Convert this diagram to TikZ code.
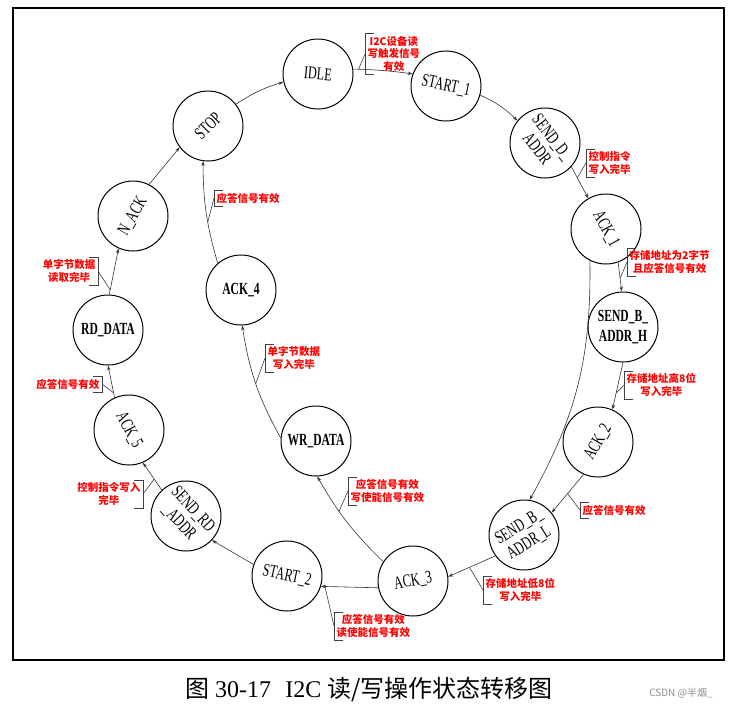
\documentclass[tikz,border=0pt]{standalone}
\usepackage{fontspec}
\setmainfont{Liberation Serif}
\newfontfamily\statefont{Liberation Serif}[FakeStretch=0.68]
\newfontfamily\cjk{Noto Sans CJK SC}
\usetikzlibrary{arrows.meta, calc}

\begin{document}
\begin{tikzpicture}[x=1pt, y=1pt, >={Stealth[length=5pt,width=3.4pt]},
    state/.style={draw, circle, line width=1pt, minimum size=70pt, inner sep=0pt, align=center, font=\statefont\fontsize{18}{20}\selectfont},
    bstate/.style={state, font=\statefont\bfseries\fontsize{17}{20}\selectfont},
    stxt/.style={align=center, inner sep=0pt, font=\statefont\fontsize{18}{19}\selectfont},
    trans/.style={->, draw=black!80, line width=0.6pt},
    note/.style={text=red, align=center, inner sep=2.5pt, font=\cjk\bfseries\fontsize{10.5}{12.5}\selectfont},
    brk/.style={draw=black!75, line width=0.6pt}]

    \useasboundingbox (0,0) rectangle (737,-710);
    \draw[line width=1.3pt] (13,-8) rectangle (724,-660);

    % states
    \node[state, label={[stxt, rotate=-5]center:IDLE}] (idle) at (318,-74) {};
    \node[state, label={[stxt, rotate=-12]center:START\_1}] (start1) at (446,-86) {};
    \node[state, label={[stxt, rotate=-52]center:{SEND\_D\_\\ADDR}}] (senddaddr) at (545,-143) {};
    \node[state, label={[stxt, rotate=-62]center:ACK\_1}] (ack1) at (606,-229) {};
    \node[bstate] (sendbh) at (623,-327) {SEND\_B\_\\ADDR\_H};
    \node[state, label={[stxt, rotate=60]center:ACK\_2}] (ack2) at (598,-442) {};
    \node[state, label={[stxt, rotate=32]center:{SEND\_B\_\\ADDR\_L}}] (sendbl) at (524,-535) {};
    \node[state, label={[stxt, rotate=10]center:ACK\_3}] (ack3) at (413,-581) {};
    \node[state, label={[stxt, rotate=-12]center:START\_2}] (start2) at (287,-576) {};
    \node[state, label={[stxt, rotate=-47]center:{SEND\_RD\\\_ADDR}}] (sendrd) at (186,-516) {};
    \node[state, label={[stxt, rotate=-62]center:ACK\_5}] (ack5) at (129,-430) {};
    \node[bstate] (rddata) at (108,-330) {RD\_DATA};
    \node[state, label={[stxt, rotate=60]center:N\_ACK}] (nack) at (133,-216) {};
    \node[state, label={[stxt, rotate=45]center:STOP}] (stop) at (208,-126) {};
    \node[bstate] (ack4) at (241,-290) {ACK\_4};
    \node[bstate] (wrdata) at (316,-441) {WR\_DATA};

    % transitions
    \draw[trans] (stop.38) to[bend left=8] (idle.193);
    \draw[trans] (idle.8) to[bend left=3] coordinate[pos=0.08] (c1) (start1.160);
    \draw[trans] (start1.-15) to[bend left=10] (senddaddr.141);
    \draw[trans] (senddaddr.-42) -- coordinate[pos=0.35] (c2) (ack1.120);
    \draw[trans] (ack1.-70) -- coordinate[pos=0.55] (c3) (sendbh.92);
    \draw[trans] (ack1.-117) to[bend left=15] (sendbl.81);
    \draw[trans] (sendbh.-90) -- coordinate[pos=0.65] (c4) (ack2.66);
    \draw[trans] (ack2.-114) -- coordinate[pos=0.5] (c5) (sendbl.39);
    \draw[trans] (sendbl.-144) -- coordinate[pos=0.55] (c6) (ack3.7);
    \draw[trans] (ack3.191) -- coordinate[pos=0.93] (c7) (start2.-17);
    \draw[trans] (ack3.147) to[bend left=8] coordinate[pos=0.63] (c8) (wrdata.-88);
    \draw[trans] (wrdata.175) to[bend left=10] coordinate[pos=0.5] (c9) (ack4.-88);
    \draw[trans] (ack4.131) to[bend left=8] coordinate[pos=0.4] (c10) (stop.-98);
    \draw[trans] (start2.161) -- (sendrd.-43);
    \draw[trans] (sendrd.133) -- coordinate[pos=0.4] (c11) (ack5.-67);
    \draw[trans] (ack5.114) -- coordinate[pos=0.15] (c12) (rddata.-90);
    \draw[trans] (rddata.88) -- coordinate[pos=0.1] (c13) (nack.-114);
    \draw[trans] (nack.63) -- (stop.-143);

    % conditions
    \node[note, anchor=west] (n1) at (365,-54) {I2C设备读\\写触发信号\\有效};
    \node[note, anchor=west] (n2) at (586,-163) {控制指令\\写入完毕};
    \node[note, anchor=west] (n3) at (627,-262) {存储地址为2字节\\且应答信号有效};
    \node[note, anchor=west] (n4) at (624,-385) {存储地址高8位\\写入完毕};
    \node[note, anchor=west] (n5) at (580,-510) {应答信号有效};
    \node[note, anchor=west] (n6) at (483,-590) {存储地址低8位\\写入完毕};
    \node[note, anchor=west] (n7) at (334,-626) {应答信号有效\\读使能信号有效};
    \node[note, anchor=west] (n8) at (348,-491) {应答信号有效\\写使能信号有效};
    \node[note, anchor=west] (n9) at (265,-358) {单字节数据\\写入完毕};
    \node[note, anchor=west] (n10) at (214,-198) {应答信号有效};
    \node[note, anchor=east] (n11) at (143,-494) {控制指令写入\\完毕};
    \node[note, anchor=east] (n12) at (102,-384) {应答信号有效};
    \node[note, anchor=east] (n13) at (98,-271) {单字节数据\\读取完毕};

    \draw[brk] ($(n1.north west)+(9,0)$) -- (n1.north west) -- (n1.south west) -- ($(n1.south west)+(9,0)$);
    \draw[brk] ($(n2.north west)+(9,0)$) -- (n2.north west) -- (n2.south west) -- ($(n2.south west)+(9,0)$);
    \draw[brk] ($(n3.north west)+(9,0)$) -- (n3.north west) -- (n3.south west) -- ($(n3.south west)+(9,0)$);
    \draw[brk] ($(n4.north west)+(9,0)$) -- (n4.north west) -- (n4.south west) -- ($(n4.south west)+(9,0)$);
    \draw[brk] ($(n5.north west)+(9,0)$) -- (n5.north west) -- (n5.south west) -- ($(n5.south west)+(9,0)$);
    \draw[brk] ($(n6.north west)+(9,0)$) -- (n6.north west) -- (n6.south west) -- ($(n6.south west)+(9,0)$);
    \draw[brk] ($(n7.north west)+(9,0)$) -- (n7.north west) -- (n7.south west) -- ($(n7.south west)+(9,0)$);
    \draw[brk] ($(n8.north west)+(9,0)$) -- (n8.north west) -- (n8.south west) -- ($(n8.south west)+(9,0)$);
    \draw[brk] ($(n9.north west)+(9,0)$) -- (n9.north west) -- (n9.south west) -- ($(n9.south west)+(9,0)$);
    \draw[brk] ($(n10.north west)+(9,0)$) -- (n10.north west) -- (n10.south west) -- ($(n10.south west)+(9,0)$);
    \draw[brk] ($(n11.north east)-(9,0)$) -- (n11.north east) -- (n11.south east) -- ($(n11.south east)-(9,0)$);
    \draw[brk] ($(n12.north east)-(9,0)$) -- (n12.north east) -- (n12.south east) -- ($(n12.south east)-(9,0)$);
    \draw[brk] ($(n13.north east)-(9,0)$) -- (n13.north east) -- (n13.south east) -- ($(n13.south east)-(9,0)$);

    \draw[brk] (c1) -- (n1.west);
    \draw[brk] (c2) -- (n2.west);
    \draw[brk] (c3) -- (n3.west);
    \draw[brk] (c4) -- (n4.west);
    \draw[brk] (c5) -- (n5.west);
    \draw[brk] (c6) -- (n6.west);
    \draw[brk] (c7) -- (n7.west);
    \draw[brk] (c8) -- (n8.west);
    \draw[brk] (c9) -- (n9.west);
    \draw[brk] (c10) -- (n10.west);
    \draw[brk] (c11) -- (n11.east);
    \draw[brk] (c12) -- (n12.east);
    \draw[brk] (c13) -- (n13.east);

    % caption
    \node[font=\fontsize{24}{26}\selectfont] (caption) at (369,-690) {{\cjk 图} 30-17\hspace{0.6em}I2C {\cjk 读/写操作状态转移图}};
    \node[text=black!45, font=\cjk\fontsize{10}{12}\selectfont] (mark) at (681,-693) {CSDN @半烟\_};
\end{tikzpicture}
\end{document}
